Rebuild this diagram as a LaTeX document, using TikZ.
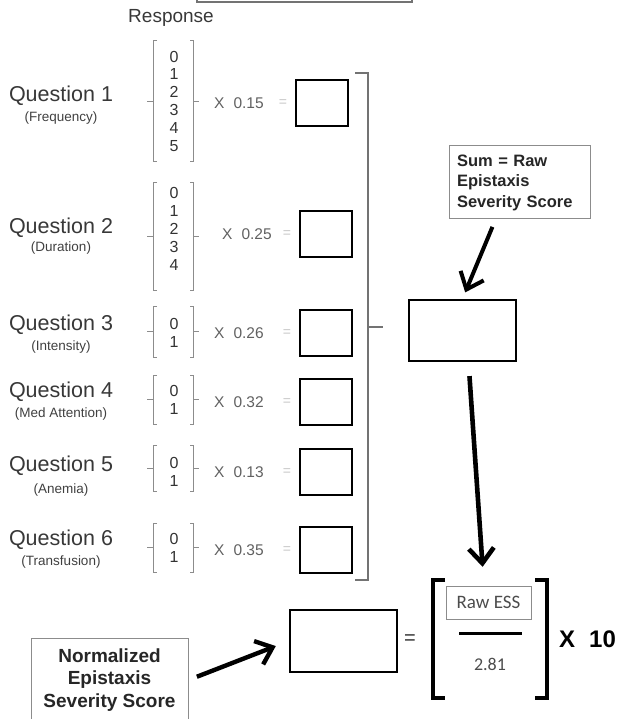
\documentclass[tikz,border=0pt]{standalone}
\usepackage{fontspec}
\setmainfont{Liberation Sans}
\newfontfamily\calibfont{Carlito}
\usetikzlibrary{arrows.meta,calc,positioning}

\tikzset{
  qlabel/.style={font=\fontsize{21.5}{24}\selectfont,text=black!78,inner sep=0pt},
  qsub/.style={font=\fontsize{13.5}{15}\selectfont,text=black!75,inner sep=0pt},
  nums/.style={font=\fontsize{16}{17.8}\selectfont,text=black!80,align=center,inner sep=0pt},
  xtext/.style={font=\fontsize{15.5}{17}\selectfont,text=black!62,anchor=west,inner sep=0pt},
  eqlight/.style={font=\fontsize{14}{16}\selectfont,text=black!22,inner sep=0pt},
  ansbox/.style={draw,line width=2.3pt,minimum width=52pt,minimum height=46pt},
  brk/.style={draw=black!45,line width=0.9pt},
  bigbrace/.style={draw=black!55,line width=1.3pt},
  notebox/.style={draw=black!45,line width=1pt,font=\bfseries,text=black!85},
  fatarrow/.style={line width=4pt,-{Straight Barb[length=15pt,width=25pt]},line join=round},
  fracbrk/.style={line width=3.6pt}
}

\begin{document}
\begin{tikzpicture}[x=1pt,y=-1pt]
\useasboundingbox (0,0) rectangle (620,719);
% box cut off at the top
\draw[black!55,line width=1.2pt] (197,-20) rectangle (412,2);
\node[font=\fontsize{19}{21}\selectfont,text=black!78] (resp) at (171,18) {Response};
% the six questions
\foreach \q/\sub/\qy/\sy/\c/\h/\ny/\vals/\w/\xx/\xy/\bx in {
  1/Frequency/96/118/101/121/101/{0\\1\\2\\3\\4\\5}/0.15/214/103/322,
  2/Duration/228/248/236/108/229/{0\\1\\2\\3\\4}/0.25/222/234/326,
  3/Intensity/325/347/331.5/51/333/{0\\1}/0.26/214/333/326,
  4/Med Attention/392/414/399.5/49/400/{0\\1}/0.32/214/402/326,
  5/Anemia/466/490/468/46/472/{0\\1}/0.13/214/472/326,
  6/Transfusion/540/562/547.5/49/548/{0\\1}/0.35/214/550/326} {
  \node[qlabel] (q\q) at (61,\qy) {Question \q};
  \node[qsub] (s\q) at (61,\sy) {(\sub)};
  \node[nums] (r\q) at (174,\ny) {\vals};
  \draw[brk] (157,{\c-\h/2}) -- (153,{\c-\h/2}) -- (153,{\c+\h/2}) -- (157,{\c+\h/2});
  \draw[brk] (153,\c) -- (147,\c);
  \draw[brk] (190,{\c-\h/2}) -- (193,{\c-\h/2}) -- (193,{\c+\h/2}) -- (190,{\c+\h/2});
  \draw[brk] (193,\c) -- (199,\c);
  \node[xtext] (x\q) at (\xx,\xy) {X\hspace{9pt}\w};
  \node[eqlight] (e\q) at ({\bx-39},\xy) {=};
  \node[ansbox] (b\q) at (\bx,\xy) {};
}
% brace round the six products
\draw[bigbrace] (355,73) -- (368,73) -- (368,580) -- (355,580);
\draw[bigbrace] (368,327) -- (383,327);
% raw score
\node[notebox,font=\fontsize{16.5}{20.5}\selectfont\bfseries,minimum width=141pt,minimum height=73pt,text width=125pt,align=left] (sum) at (519.5,182.5) {Sum = Raw\\Epistaxis\\Severity Score};
\node[draw,line width=2.3pt,minimum width=107pt,minimum height=61pt] (raw) at (462.5,330.5) {};
\coordinate (sumfoot) at ($(sum.south)+(-24,0)$);
\draw[fatarrow,shorten <=8pt,shorten >=7pt] (sumfoot) -- (raw.north);
% normalized score
\node[draw,line width=2.3pt,minimum width=107pt,minimum height=62pt] (final) at (343.5,641) {};
\node[font=\fontsize{20}{22}\selectfont,text=black!80] (eq) at (410,640) {=};
\node[minimum width=115pt,minimum height=118pt,inner sep=0pt] (frac) at (490.5,639) {};
\draw[fracbrk] (445,580) -- (433,580) -- (433,698) -- (445,698);
\draw[fracbrk] (535,580) -- (547,580) -- (547,698) -- (535,698);
\node[draw=black!45,line width=1pt,minimum width=85pt,minimum height=33pt,font=\calibfont\fontsize{19}{21}\selectfont,text=black!70] (ess) at (488.5,602.5) {Raw ESS};
\draw[line width=3pt] (459,633) -- (522,633);
\node[font=\calibfont\fontsize{18}{20}\selectfont,text=black!70] (div) at (490,664) {2.81};
\node[font=\fontsize{24}{26}\selectfont\bfseries,anchor=west,inner sep=0pt] (times) at (559,639) {X\hspace{14pt}10};
\coordinate (rawfoot) at ($(raw.south)+(6,0)$);
\coordinate (fractop) at ($(frac.north)+(-7,0)$);
\draw[fatarrow,line width=4.6pt,shorten <=14pt,shorten >=13pt] (rawfoot) -- (fractop);
\node[notebox,font=\fontsize{19}{22.5}\selectfont\bfseries,minimum width=157pt,minimum height=84pt,align=center] (norm) at (109.5,680) {Normalized\\Epistaxis\\Severity Score};
\draw[fatarrow,line width=4.4pt,shorten <=9pt,shorten >=14pt] (norm.east) -- (final.west);
\end{tikzpicture}
\end{document}
